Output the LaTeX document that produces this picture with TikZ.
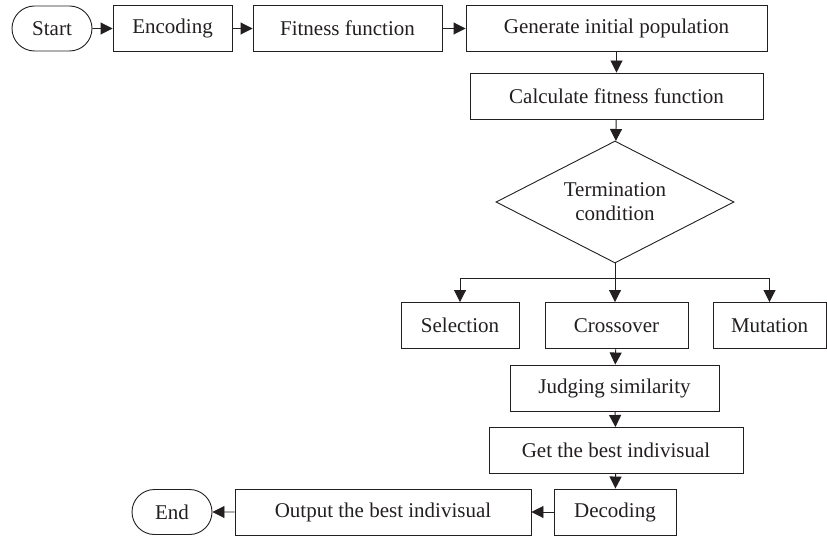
\documentclass[tikz,border=0pt]{standalone}
\usepackage{fontspec}
\setmainfont{Liberation Serif}
\usetikzlibrary{arrows.meta,shapes.geometric,shapes.misc}
\definecolor{inkColor}{HTML}{231F20}

\begin{document}
\begin{tikzpicture}
[boxDecorate/.style={shape=rectangle,draw=inkColor,line width=0.9pt,text=inkColor,%
   minimum height=46pt,inner sep=0pt,font=\fontsize{21}{24}\selectfont},%
  termDecorate/.style={boxDecorate,shape=rounded rectangle,minimum height=45pt},%
  decisionDecorate/.style={boxDecorate,shape=diamond,align=center,aspect=1.95,%
   minimum width=238pt,minimum height=122pt},%
  lineDecorate/.style={-{Triangle[length=12pt,width=12pt,fill=inkColor]},%
   draw=inkColor,line width=0.9pt},%
  x=1pt,y=-1pt]
\useasboundingbox (0,0) rectangle (827,537);
%% terminals
\node (start) at (52,28.5) [termDecorate,minimum width=80pt] {Start};
\node (end) at (172,512) [termDecorate,minimum width=80pt] {End};
%% process boxes
\foreach \nodename/\x/\y/\w/\txt in {
  encoding/172.5/28.5/119/Encoding, fitness/347.5/28.5/189/Fitness function,
  generate/616.5/28.5/301/Generate initial population,
  calculate/616.5/96/293/Calculate fitness function,
  selection/460/325.5/118/Selection, crossover/616.5/325.5/143/Crossover,
  mutation/769.5/325.5/113/Mutation, judging/614.5/388/209/Judging similarity,
  best/616/450.5/254/Get the best indivisual, decoding/615/512/122/Decoding,
  output/383/512/296/Output the best indivisual}
{
  \node (\nodename) at (\x,\y) [boxDecorate,minimum width=\w pt] {\txt};
}
%% decision
\node (termination) at (615,202) [decisionDecorate] {Termination\\condition};
\coordinate (split) at (615,278);
%% edges or lines
\path
\foreach \startnode/\endnode in {start/encoding, encoding/fitness,
  fitness/generate, generate/calculate, calculate/termination,
  crossover/judging, judging/best, best/decoding, decoding/output, output/end}
{
  (\startnode) edge[lineDecorate] (\endnode)
};
\draw[draw=inkColor,line width=0.9pt] (termination.south) -- (split);
\draw[lineDecorate] (split) -| (selection.north);
\draw[lineDecorate] (split) -- (split |- crossover.north);
\draw[lineDecorate] (split) -| (mutation.north);
\end{tikzpicture}
\end{document}
